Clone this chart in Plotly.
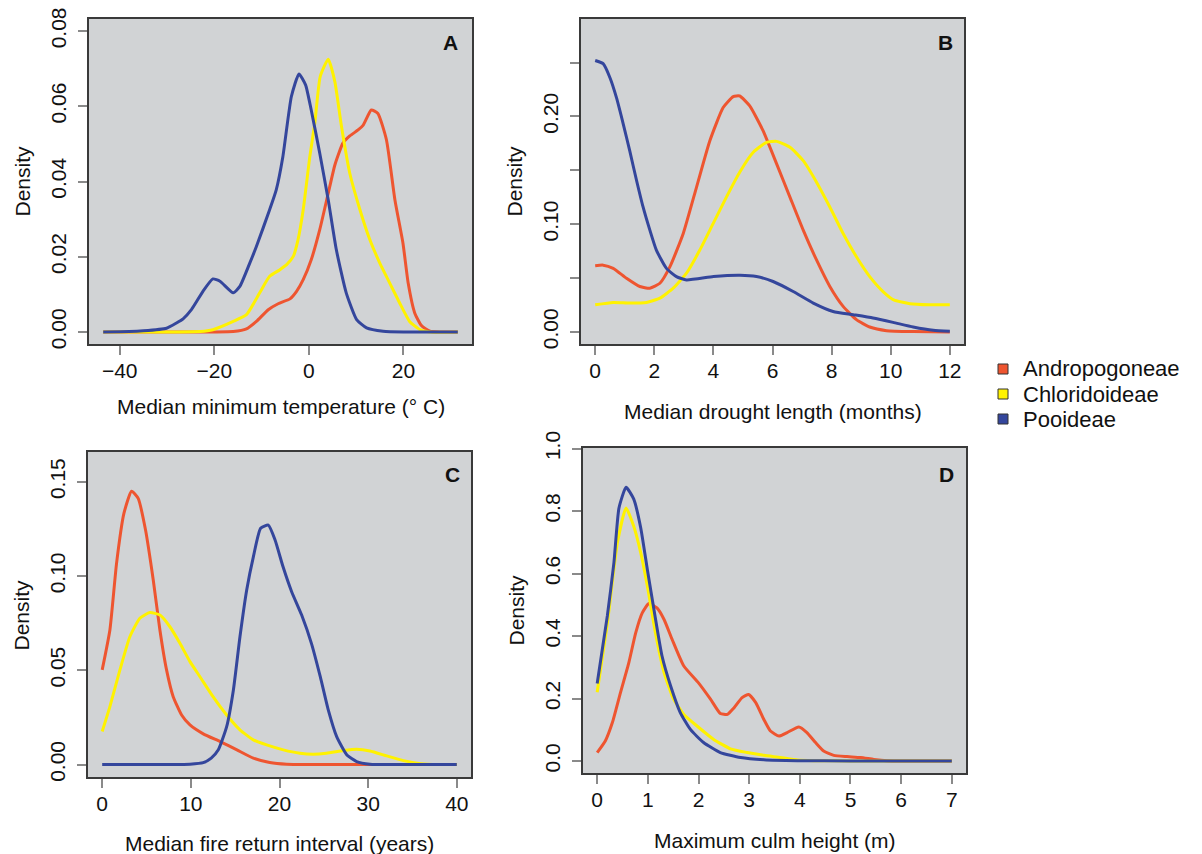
import plotly.graph_objects as go

# ---------------- data ----------------
series_names = ["Andropogoneae", "Chloridoideae", "Pooideae"]
series_colors = ["#EE5530", "#FFF200", "#34469C"]

# Panel A: median minimum temperature (deg C)
tempA_x_andro = [-43.5, -20, -16, -13.2, -11.1, -8.6, -6.5, -4.0, -2.6, -1.2, 0.5, 2.3, 4.1, 5.5, 7.2, 8.65, 10.4, 11.5, 13.2, 14.6, 16.4, 18.2, 19.9, 21.0, 22.4, 23.8, 25.6, 28, 31.5]
tempA_y_andro = [0, 0, 0.0001, 0.0008, 0.0028, 0.0059, 0.0075, 0.0088, 0.0108, 0.0139, 0.0192, 0.0272, 0.0369, 0.0444, 0.0502, 0.0521, 0.0537, 0.0550, 0.0590, 0.0581, 0.0511, 0.0351, 0.0236, 0.0130, 0.0050, 0.0017, 0.0002, 0, 0]
tempA_x_chlor = [-43.5, -28, -23, -20.3, -16.0, -13.2, -10.4, -8.3, -6.2, -4.7, -3.3, -2.3, -1.2, 0.2, 1.25, 2.4, 4.1, 5.5, 6.9, 8.65, 10.8, 12.9, 15.0, 17.1, 19.2, 21.3, 23.5, 25.6, 31.5]
tempA_y_chlor = [0, 0, 0.0001, 0.0006, 0.0028, 0.0046, 0.0104, 0.0148, 0.0165, 0.0179, 0.0201, 0.0245, 0.0325, 0.0466, 0.0555, 0.0679, 0.0725, 0.0665, 0.0546, 0.0422, 0.0325, 0.0245, 0.0183, 0.0130, 0.0077, 0.0028, 0.0006, 0, 0]
tempA_x_pooid = [-43.5, -38, -35, -30.1, -28.0, -26.6, -24.8, -22.4, -20.3, -18.8, -16.0, -14.6, -12.5, -11.1, -8.3, -6.9, -5.5, -3.7, -2.1, -0.7, 0.5, 2.3, 4.1, 5.8, 7.9, 10.1, 12.2, 15.7, 20, 31.5]
tempA_y_pooid = [0, 0.0001, 0.0003, 0.0010, 0.0024, 0.0035, 0.0060, 0.0108, 0.0141, 0.0135, 0.0104, 0.0121, 0.0183, 0.0227, 0.0325, 0.0378, 0.0466, 0.0626, 0.0686, 0.0657, 0.0590, 0.0475, 0.0351, 0.0219, 0.0104, 0.0033, 0.0011, 0.0002, 0, 0]

# Panel B: median drought length (months)
drB_x_andro = [0, 0.27, 0.61, 1.06, 1.51, 1.85, 2.19, 2.53, 2.98, 3.43, 3.88, 4.33, 4.67, 4.89, 5.23, 5.68, 6.14, 6.59, 7.04, 7.49, 7.94, 8.39, 8.84, 9.29, 9.86, 10.76, 12]
drB_y_andro = [0.0615, 0.0620, 0.0590, 0.0498, 0.0422, 0.0406, 0.0452, 0.0606, 0.0914, 0.1345, 0.1775, 0.2083, 0.2185, 0.2190, 0.2098, 0.1868, 0.1560, 0.1252, 0.0945, 0.0668, 0.0422, 0.0237, 0.0114, 0.0046, 0.0012, 0.0003, 0]
drB_x_chlor = [0, 0.61, 1.17, 1.74, 2.19, 2.64, 3.09, 3.54, 3.99, 4.44, 4.89, 5.35, 5.8, 6.14, 6.59, 7.04, 7.49, 7.94, 8.39, 8.84, 9.29, 9.74, 10.1, 10.65, 11.3, 12]
drB_y_chlor = [0.0252, 0.0274, 0.0268, 0.0274, 0.0314, 0.0406, 0.0545, 0.0760, 0.1006, 0.1252, 0.1483, 0.1668, 0.1760, 0.1769, 0.1714, 0.1590, 0.1390, 0.1160, 0.0914, 0.0698, 0.0514, 0.0375, 0.0298, 0.0262, 0.0252, 0.0252]
drB_x_pooid = [0, 0.27, 0.5, 0.72, 0.95, 1.17, 1.4, 1.62, 1.85, 2.07, 2.41, 2.75, 3.09, 4.0, 4.9, 5.46, 6.02, 6.7, 7.38, 8.05, 8.73, 9.4, 10.08, 10.76, 11.44, 12]
drB_y_pooid = [0.252, 0.249, 0.236, 0.2175, 0.193, 0.168, 0.1406, 0.116, 0.0945, 0.076, 0.059, 0.0514, 0.0483, 0.0514, 0.0526, 0.0514, 0.0468, 0.0375, 0.0268, 0.0190, 0.0160, 0.0129, 0.0089, 0.0046, 0.0015, 0.0006]

# Panel C: median fire return interval (years)
fireC_x_andro = [0, 0.87, 1.62, 2.45, 3.31, 4.06, 4.89, 5.76, 6.51, 7.26, 8.01, 8.96, 9.9, 11.4, 13.3, 15.2, 17.05, 18.9, 20.8, 25, 40]
fireC_y_andro = [0.0502, 0.0714, 0.1067, 0.1332, 0.1450, 0.1412, 0.1244, 0.0979, 0.0714, 0.0502, 0.0360, 0.0263, 0.0210, 0.0163, 0.0122, 0.0078, 0.0034, 0.0011, 0.0002, 0, 0]
fireC_x_chlor = [0, 0.87, 2.0, 3.12, 4.25, 5.38, 6.51, 7.64, 8.77, 9.9, 11.03, 12.5, 14.04, 15.54, 17.05, 18.55, 20.43, 22.3, 23.8, 25.3, 27.2, 28.7, 30.2, 32.1, 33.98, 35.9, 38, 40]
fireC_y_chlor = [0.0175, 0.0307, 0.0502, 0.0678, 0.0776, 0.0806, 0.0793, 0.0731, 0.0643, 0.0546, 0.0466, 0.0360, 0.0263, 0.0184, 0.0131, 0.0104, 0.0078, 0.0060, 0.0055, 0.0060, 0.0074, 0.0081, 0.0072, 0.0046, 0.0021, 0.0005, 0, 0]
fireC_x_pooid = [0, 8, 9.9, 11.4, 12.3, 13.1, 14.04, 14.8, 15.54, 16.3, 17.05, 17.87, 18.74, 19.5, 20.4, 21.37, 22.5, 23.6, 24.6, 25.5, 26.45, 27.6, 28.7, 30.2, 33, 40]
fireC_y_pooid = [0, 0, 0.0002, 0.0010, 0.0034, 0.0078, 0.0201, 0.0396, 0.0678, 0.0926, 0.1102, 0.1253, 0.1270, 0.1191, 0.1049, 0.0917, 0.0793, 0.0643, 0.0466, 0.0290, 0.0148, 0.0051, 0.0016, 0.0002, 0, 0]

# Panel D: maximum culm height (m)
culmD_x_andro = [0, 0.16, 0.3, 0.46, 0.625, 0.76, 0.89, 1.02, 1.18, 1.32, 1.48, 1.71, 2.0, 2.24, 2.43, 2.57, 2.7, 2.86, 2.99, 3.13, 3.29, 3.42, 3.59, 3.75, 3.98, 4.14, 4.31, 4.47, 4.67, 4.93, 5.2, 5.46, 5.72, 6.2, 7]
culmD_y_andro = [0.027, 0.064, 0.123, 0.219, 0.315, 0.410, 0.474, 0.504, 0.490, 0.453, 0.389, 0.304, 0.250, 0.197, 0.152, 0.149, 0.170, 0.203, 0.213, 0.187, 0.133, 0.096, 0.080, 0.091, 0.109, 0.091, 0.059, 0.032, 0.018, 0.014, 0.011, 0.005, 0.001, 0, 0]
culmD_x_chlor = [0, 0.2, 0.4, 0.57, 0.72, 0.86, 0.99, 1.15, 1.32, 1.51, 1.71, 1.97, 2.3, 2.63, 2.96, 3.29, 3.62, 3.95, 4.28, 5, 7]
culmD_y_chlor = [0.22, 0.44, 0.70, 0.810, 0.752, 0.666, 0.560, 0.410, 0.283, 0.197, 0.149, 0.112, 0.069, 0.039, 0.027, 0.018, 0.011, 0.003, 0.001, 0, 0]
culmD_x_pooid = [0, 0.2, 0.33, 0.43, 0.57, 0.72, 0.86, 0.99, 1.12, 1.28, 1.45, 1.64, 1.84, 2.1, 2.43, 2.83, 3.29, 3.95, 5, 7]
culmD_y_pooid = [0.248, 0.464, 0.634, 0.810, 0.876, 0.839, 0.746, 0.613, 0.485, 0.336, 0.240, 0.155, 0.101, 0.059, 0.027, 0.011, 0.004, 0.001, 0, 0]

# axis ticks / labels
tempA_xticks = [-40, -20, 0, 20]
tempA_xlabels = ["\u221240", "\u221220", "0", "20"]
tempA_yticks = [0, 0.02, 0.04, 0.06, 0.08]
tempA_ylabels = ["0.00", "0.02", "0.04", "0.06", "0.08"]
drB_xticks = [0, 2, 4, 6, 8, 10, 12]
drB_yticks = [0, 0.05, 0.10, 0.15, 0.20, 0.25]
drB_ylabels = ["0.00", "", "0.10", "", "0.20", ""]
fireC_xticks = [0, 10, 20, 30, 40]
fireC_yticks = [0, 0.05, 0.10, 0.15]
fireC_ylabels = ["0.00", "0.05", "0.10", "0.15"]
culmD_xticks = [0, 1, 2, 3, 4, 5, 6, 7]
culmD_yticks = [0, 0.2, 0.4, 0.6, 0.8, 1.0]
culmD_ylabels = ["0.0", "0.2", "0.4", "0.6", "0.8", "1.0"]

x_titles = ["Median minimum temperature (\u00b0 C)", "Median drought length (months)",
            "Median fire return interval (years)", "Maximum culm height (m)"]
panel_letters = ["A", "B", "C", "D"]

# ---------------- layout constants (pixels) ----------------
W, H = 1202, 854
FONT = "Liberation Sans, Arial, Helvetica, sans-serif"
BG = "#D1D3D5"
boxes = [(89, 472, 19, 344), (581, 964, 19, 344), (88, 471, 452, 777), (583, 966, 448, 773)]
xranges = [[-46.5, 34.5], [-0.48, 12.48], [-1.6, 41.6], [-0.28, 7.28]]
yranges = [[-0.0032, 0.0832], [-0.0112, 0.2905], [-0.0066, 0.1658], [-0.0385, 1.002]]
xtitle_y = [406, 411, 843, 840]
letter_pos = [(450, 43), (945, 42), (452, 475), (946, 475)]


def px(x):
    return x / W


def py(y):
    return 1 - y / H


fig = go.Figure()

panels = [
    [(tempA_x_andro, tempA_y_andro), (tempA_x_chlor, tempA_y_chlor), (tempA_x_pooid, tempA_y_pooid)],
    [(drB_x_andro, drB_y_andro), (drB_x_chlor, drB_y_chlor), (drB_x_pooid, drB_y_pooid)],
    [(fireC_x_andro, fireC_y_andro), (fireC_x_chlor, fireC_y_chlor), (fireC_x_pooid, fireC_y_pooid)],
    [(culmD_x_andro, culmD_y_andro), (culmD_x_chlor, culmD_y_chlor), (culmD_x_pooid, culmD_y_pooid)],
]
xtick_sets = [(tempA_xticks, tempA_xlabels), (drB_xticks, [str(v) for v in drB_xticks]),
              (fireC_xticks, [str(v) for v in fireC_xticks]), (culmD_xticks, [str(v) for v in culmD_xticks])]
ytick_sets = [(tempA_yticks, tempA_ylabels), (drB_yticks, drB_ylabels),
              (fireC_yticks, fireC_ylabels), (culmD_yticks, culmD_ylabels)]

for i, series in enumerate(panels):
    sfx = "" if i == 0 else str(i + 1)
    for k, (xs, ys) in enumerate(series):
        fig.add_trace(go.Scatter(
            x=xs, y=ys, mode="lines", name=series_names[k], showlegend=False,
            line=dict(color=series_colors[k], width=3, shape="spline", smoothing=0.5),
            xaxis="x" + sfx, yaxis="y" + sfx, hoverinfo="skip"))
    x0, x1, y0, y1 = boxes[i]
    common = dict(showline=True, mirror=True, linecolor="#3A3A3A", linewidth=1.5,
                  ticks="outside", ticklen=9, tickwidth=1.5, tickcolor="#8A8A8A",
                  showgrid=False, zeroline=False, fixedrange=True, automargin=False,
                  tickfont=dict(family=FONT, size=21, color="#111111"))
    fig.layout["xaxis" + sfx] = dict(
        domain=[px(x0), px(x1)], range=xranges[i], anchor="y" + sfx,
        tickvals=xtick_sets[i][0], ticktext=xtick_sets[i][1], ticklabelstandoff=-2, **common)
    fig.layout["yaxis" + sfx] = dict(
        domain=[py(y1), py(y0)], range=yranges[i], anchor="x" + sfx,
        tickvals=ytick_sets[i][0], ticktext=ytick_sets[i][1], tickangle=-90,
        ticklabelstandoff=4, **common)
    # axis titles
    fig.add_annotation(x=px((x0 + x1) / 2), y=py(xtitle_y[i]), xref="paper", yref="paper",
                       text=x_titles[i], showarrow=False, xanchor="center", yanchor="middle",
                       font=dict(family=FONT, size=21, color="#111111"))
    fig.add_annotation(x=px(x0 - 67), y=py((y0 + y1) / 2), xref="paper", yref="paper",
                       text="Density", showarrow=False, textangle=-90, xanchor="center",
                       yanchor="middle", font=dict(family=FONT, size=21, color="#111111"))
    lx, ly = letter_pos[i]
    fig.add_annotation(x=px(lx), y=py(ly), xref="paper", yref="paper",
                       text="<b>" + panel_letters[i] + "</b>", showarrow=False,
                       xanchor="center", yanchor="middle",
                       font=dict(family=FONT, size=21, color="#111111"))
    fig.add_shape(type="rect", xref="paper", yref="paper", layer="below",
                  x0=px(x0), x1=px(x1), y0=py(y1), y1=py(y0),
                  fillcolor=BG, line=dict(width=0))

# manual legend
leg_y = [369, 394, 419]
for k, name in enumerate(series_names):
    fig.add_shape(type="rect", xref="paper", yref="paper",
                  x0=px(998), x1=px(1008), y0=py(leg_y[k] + 5), y1=py(leg_y[k] - 5),
                  fillcolor=series_colors[k], line=dict(color="#333333", width=1))
    fig.add_annotation(x=px(1021), y=py(leg_y[k]), xref="paper", yref="paper",
                       text=name, showarrow=False, xanchor="left", yanchor="middle",
                       font=dict(family=FONT, size=22, color="#111111"))

fig.update_layout(width=W, height=H, margin=dict(l=0, r=0, t=0, b=0),
                  paper_bgcolor="white", plot_bgcolor="rgba(0,0,0,0)", showlegend=False)

fig.write_html("out.html", config={"displayModeBar": False},
               post_script="document.body.style.margin='0';document.body.style.overflow='hidden';")
